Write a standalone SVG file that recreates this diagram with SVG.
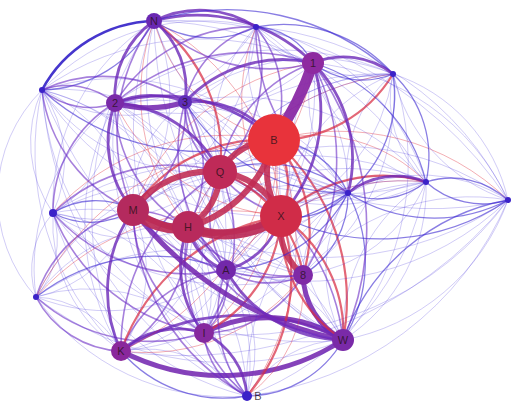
<svg xmlns="http://www.w3.org/2000/svg" width="512" height="403" viewBox="0 0 512 403">
<style>
.e path{fill:none;stroke-linecap:round}
.t{stroke:#3d2ad8;stroke-opacity:.3;stroke-width:.8}
.tb{stroke:#3a26d0;stroke-opacity:.6;stroke-width:1.3}
.bb{stroke:#3220c8;stroke-opacity:.9;stroke-width:2.6}
.p{stroke:#6a2bc4;stroke-opacity:.6;stroke-width:1.6}
.pp{stroke:#6c28b8;stroke-opacity:.8;stroke-width:2.8}
.pk{stroke:#7428b0;stroke-opacity:.88;stroke-width:5}
.bo{stroke:#8a2aa4;stroke-opacity:.95;stroke-width:11}
.r{stroke:#e03444;stroke-opacity:.4;stroke-width:1}
.rr{stroke:#d82c42;stroke-opacity:.72;stroke-width:2.2}
.c{stroke:#c02a52;stroke-opacity:.88;stroke-width:6}
.cc{stroke:#bb2a56;stroke-opacity:.92;stroke-width:10}
.n text{font-family:"Liberation Sans",Arial,sans-serif;font-size:11px;fill:#2a1018;fill-opacity:.8;text-anchor:middle}
</style>
<rect width="512" height="403" fill="#ffffff"/>
<g id="connectors" class="e">
<path class="t" d="M42 90A144 144 0 0 0 185 102"/>
<path class="t" d="M42 90A237 237 0 0 1 274 140"/>
<path class="t" d="M42 90A150 150 0 0 1 133 210"/>
<path class="t" d="M42 90A196 196 0 0 1 220 172"/>
<path class="t" d="M53 213A172 172 0 0 0 220 172"/>
<path class="t" d="M53 213A182 182 0 0 1 226 270"/>
<path class="t" d="M53 213A193 193 0 0 1 204 333"/>
<path class="t" d="M53 213A126 126 0 0 0 115 103"/>
<path class="t" d="M36 297A130 130 0 0 0 133 210"/>
<path class="t" d="M36 297A192 192 0 0 0 226 270"/>
<path class="t" d="M36 297A172 172 0 0 1 204 333"/>
<path class="t" d="M121 351A141 141 0 0 0 133 210"/>
<path class="t" d="M121 351A133 133 0 0 0 226 270"/>
<path class="t" d="M121 351A205 205 0 0 0 220 172"/>
<path class="t" d="M204 333A107 107 0 0 0 188 227"/>
<path class="t" d="M204 333A142 142 0 0 0 133 210"/>
<path class="t" d="M204 333A162 162 0 0 1 220 172"/>
<path class="t" d="M247 396A128 128 0 0 0 226 270"/>
<path class="t" d="M247 396A179 179 0 0 0 188 227"/>
<path class="t" d="M247 396A218 218 0 0 0 133 210"/>
<path class="t" d="M343 340A136 136 0 0 0 226 270"/>
<path class="t" d="M343 340A192 192 0 0 0 188 227"/>
<path class="t" d="M343 340A208 208 0 0 1 220 172"/>
<path class="t" d="M343 340A279 279 0 0 1 313 63"/>
<path class="t" d="M303 275A94 94 0 0 1 348 193"/>
<path class="t" d="M303 275A154 154 0 0 1 426 182"/>
<path class="t" d="M303 275A212 212 0 0 1 313 63"/>
<path class="t" d="M226 270A144 144 0 0 1 348 193"/>
<path class="t" d="M226 270A173 173 0 0 0 185 102"/>
<path class="t" d="M281 216A71 71 0 0 1 348 193"/>
<path class="t" d="M281 216A181 181 0 0 1 393 74"/>
<path class="t" d="M281 216A149 149 0 0 0 185 102"/>
<path class="t" d="M188 227A144 144 0 0 0 115 103"/>
<path class="t" d="M188 227A164 164 0 0 1 348 193"/>
<path class="t" d="M133 210A120 120 0 0 1 185 102"/>
<path class="t" d="M133 210A216 216 0 0 1 348 193"/>
<path class="t" d="M133 210A190 190 0 0 0 154 21"/>
<path class="t" d="M220 172A130 130 0 0 0 348 193"/>
<path class="t" d="M220 172A143 143 0 0 0 313 63"/>
<path class="t" d="M220 172A149 149 0 0 1 256 27"/>
<path class="t" d="M274 140A91 91 0 0 0 348 193"/>
<path class="t" d="M274 140A114 114 0 0 1 256 27"/>
<path class="t" d="M115 103A160 160 0 0 0 256 27"/>
<path class="t" d="M115 103A202 202 0 0 0 313 63"/>
<path class="t" d="M185 102A103 103 0 0 0 256 27"/>
<path class="t" d="M185 102A187 187 0 0 1 348 193"/>
<path class="t" d="M256 27A190 190 0 0 1 348 193"/>
<path class="t" d="M313 63A135 135 0 0 0 348 193"/>
<path class="t" d="M313 63A164 164 0 0 0 426 182"/>
<path class="t" d="M393 74A127 127 0 0 0 348 193"/>
<path class="t" d="M348 193A160 160 0 0 1 508 200"/>
<path class="t" d="M426 182A149 149 0 0 0 281 216"/>
<path class="t" d="M393 74A199 199 0 0 0 220 172"/>
<path class="r" d="M426 182A219 219 0 0 0 226 270"/>
<path class="r" d="M393 74A256 256 0 0 0 188 227"/>
<path class="bb" d="M154 21A131 131 0 0 0 42 90"/>
<path class="tb" d="M154 21A131 131 0 0 1 42 90"/>
<path class="p" d="M42 90A74 74 0 0 1 115 103"/>
<path class="p" d="M42 90A74 74 0 0 0 115 103"/>
<path class="p" d="M42 90A144 144 0 0 1 185 102"/>
<path class="t" d="M42 90A223 223 0 0 1 256 27"/>
<path class="t" d="M42 90A272 272 0 0 1 313 63"/>
<path class="tb" d="M42 90A237 237 0 0 0 274 140"/>
<path class="t" d="M42 90A196 196 0 0 0 220 172"/>
<path class="p" d="M42 90A150 150 0 0 0 133 210"/>
<path class="t" d="M42 90A200 200 0 0 1 188 227"/>
<path class="t" d="M42 90A270 270 0 0 0 281 216"/>
<path class="t" d="M42 90A123 123 0 0 1 53 213"/>
<path class="t" d="M42 90A123 123 0 0 0 53 213"/>
<path class="t" d="M42 90A150 150 0 0 0 36 297"/>
<path class="t" d="M42 90A273 273 0 0 0 121 351"/>
<path class="t" d="M42 90A257 257 0 0 1 226 270"/>
<path class="t" d="M42 90A292 292 0 0 0 204 333"/>
<path class="t" d="M42 90A391 391 0 0 0 343 340"/>
<path class="t" d="M42 90A368 368 0 0 0 247 396"/>
<path class="t" d="M154 21A217 217 0 0 0 53 213"/>
<path class="p" d="M53 213A126 126 0 0 1 115 103"/>
<path class="tb" d="M53 213A80 80 0 0 1 133 210"/>
<path class="tb" d="M53 213A80 80 0 0 0 133 210"/>
<path class="p" d="M53 213A172 172 0 0 1 220 172"/>
<path class="t" d="M53 213A136 136 0 0 0 188 227"/>
<path class="t" d="M53 213A228 228 0 0 1 281 216"/>
<path class="r" d="M53 213A233 233 0 0 1 274 140"/>
<path class="p" d="M53 213A182 182 0 0 0 226 270"/>
<path class="t" d="M53 213A154 154 0 0 0 121 351"/>
<path class="p" d="M53 213A193 193 0 0 0 204 333"/>
<path class="t" d="M53 213A317 317 0 0 0 343 340"/>
<path class="t" d="M53 213A86 86 0 0 0 36 297"/>
<path class="t" d="M53 213A86 86 0 0 1 36 297"/>
<path class="t" d="M53 213A258 258 0 0 0 303 275"/>
<path class="t" d="M53 213A267 267 0 0 0 247 396"/>
<path class="t" d="M53 213A295 295 0 0 1 348 193"/>
<path class="p" d="M36 297A100 100 0 0 0 121 351"/>
<path class="t" d="M36 297A100 100 0 0 1 121 351"/>
<path class="p" d="M36 297A130 130 0 0 1 133 210"/>
<path class="t" d="M36 297A167 167 0 0 1 188 227"/>
<path class="tb" d="M36 297A192 192 0 0 1 226 270"/>
<path class="p" d="M36 297A172 172 0 0 0 204 333"/>
<path class="t" d="M36 297A310 310 0 0 0 343 340"/>
<path class="t" d="M36 297A233 233 0 0 0 247 396"/>
<path class="r" d="M36 297A258 258 0 0 1 281 216"/>
<path class="t" d="M36 297A268 268 0 0 1 303 275"/>
<path class="t" d="M36 297A222 222 0 0 1 220 172"/>
<path class="t" d="M36 297A209 209 0 0 1 115 103"/>
<path class="r" d="M36 297A285 285 0 0 1 274 140"/>
<path class="pk" d="M121 351A222 222 0 0 0 343 340"/>
<path class="pp" d="M121 351A222 222 0 0 1 343 340"/>
<path class="tb" d="M121 351A134 134 0 0 0 247 396"/>
<path class="t" d="M121 351A134 134 0 0 1 247 396"/>
<path class="pp" d="M121 351A141 141 0 0 1 133 210"/>
<path class="p" d="M121 351A141 141 0 0 0 188 227"/>
<path class="p" d="M121 351A133 133 0 0 1 226 270"/>
<path class="pp" d="M121 351A85 85 0 0 1 204 333"/>
<path class="rr" d="M121 351A209 209 0 0 1 281 216"/>
<path class="r" d="M121 351A197 197 0 0 0 303 275"/>
<path class="p" d="M121 351A205 205 0 0 1 220 172"/>
<path class="r" d="M121 351A260 260 0 0 0 274 140"/>
<path class="t" d="M121 351A248 248 0 0 1 115 103"/>
<path class="t" d="M121 351A332 332 0 0 1 154 21"/>
<path class="t" d="M121 351A277 277 0 0 0 348 193"/>
<path class="t" d="M121 351A415 415 0 0 0 508 200"/>
<path class="pk" d="M204 333A139 139 0 0 1 343 340"/>
<path class="pp" d="M204 333A76 76 0 0 1 247 396"/>
<path class="p" d="M204 333A76 76 0 0 0 247 396"/>
<path class="pp" d="M204 333A107 107 0 0 1 188 227"/>
<path class="p" d="M204 333A67 67 0 0 0 226 270"/>
<path class="rr" d="M204 333A140 140 0 0 0 281 216"/>
<path class="p" d="M204 333A115 115 0 0 0 303 275"/>
<path class="p" d="M204 333A142 142 0 0 1 133 210"/>
<path class="p" d="M204 333A162 162 0 0 0 220 172"/>
<path class="r" d="M204 333A205 205 0 0 0 274 140"/>
<path class="t" d="M204 333A316 316 0 0 1 154 21"/>
<path class="t" d="M204 333A232 232 0 0 0 185 102"/>
<path class="t" d="M204 333A332 332 0 0 0 508 200"/>
<path class="t" d="M204 333A268 268 0 0 1 426 182"/>
<path class="tb" d="M247 396A111 111 0 0 0 343 340"/>
<path class="t" d="M247 396A111 111 0 0 1 343 340"/>
<path class="p" d="M247 396A128 128 0 0 1 226 270"/>
<path class="p" d="M247 396A179 179 0 0 1 188 227"/>
<path class="rr" d="M247 396A183 183 0 0 0 281 216"/>
<path class="r" d="M247 396A133 133 0 0 0 303 275"/>
<path class="r" d="M247 396A257 257 0 0 0 274 140"/>
<path class="p" d="M247 396A218 218 0 0 1 133 210"/>
<path class="t" d="M247 396A226 226 0 0 1 220 172"/>
<path class="t" d="M247 396A326 326 0 0 0 508 200"/>
<path class="t" d="M247 396A279 279 0 0 0 426 182"/>
<path class="t" d="M247 396A227 227 0 0 1 348 193"/>
<path class="t" d="M247 396A310 310 0 0 1 115 103"/>
<path class="pk" d="M343 340A76 76 0 0 1 303 275"/>
<path class="rr" d="M343 340A139 139 0 0 0 281 216"/>
<path class="rr" d="M343 340A139 139 0 0 1 281 216"/>
<path class="rr" d="M343 340A212 212 0 0 0 274 140"/>
<path class="pp" d="M343 340A136 136 0 0 1 226 270"/>
<path class="pk" d="M343 340A350 350 0 0 1 133 210"/>
<path class="p" d="M343 340A192 192 0 0 1 188 227"/>
<path class="p" d="M343 340A208 208 0 0 0 220 172"/>
<path class="tb" d="M343 340A147 147 0 0 0 348 193"/>
<path class="t" d="M343 340A147 147 0 0 1 348 193"/>
<path class="t" d="M343 340A178 178 0 0 0 426 182"/>
<path class="t" d="M343 340A178 178 0 0 1 426 182"/>
<path class="t" d="M343 340A216 216 0 0 0 508 200"/>
<path class="tb" d="M343 340A216 216 0 0 1 508 200"/>
<path class="t" d="M343 340A270 270 0 0 0 393 74"/>
<path class="p" d="M343 340A279 279 0 0 0 313 63"/>
<path class="t" d="M343 340A286 286 0 0 1 185 102"/>
<path class="t" d="M343 340A371 371 0 0 1 154 21"/>
<path class="c" d="M303 275A63 63 0 0 1 281 216"/>
<path class="rr" d="M303 275A138 138 0 0 0 274 140"/>
<path class="p" d="M303 275A77 77 0 0 1 226 270"/>
<path class="p" d="M303 275A125 125 0 0 1 188 227"/>
<path class="p" d="M303 275A182 182 0 0 1 133 210"/>
<path class="rr" d="M303 275A132 132 0 0 0 220 172"/>
<path class="tb" d="M303 275A94 94 0 0 0 348 193"/>
<path class="t" d="M303 275A154 154 0 0 0 426 182"/>
<path class="t" d="M303 275A218 218 0 0 1 508 200"/>
<path class="p" d="M303 275A212 212 0 0 0 313 63"/>
<path class="t" d="M303 275A220 220 0 0 0 393 74"/>
<path class="t" d="M303 275A255 255 0 0 1 115 103"/>
<path class="pp" d="M226 270A57 57 0 0 1 188 227"/>
<path class="pp" d="M226 270A77 77 0 0 0 281 216"/>
<path class="p" d="M226 270A98 98 0 0 1 220 172"/>
<path class="p" d="M226 270A111 111 0 0 0 133 210"/>
<path class="r" d="M226 270A139 139 0 0 0 274 140"/>
<path class="tb" d="M226 270A144 144 0 0 0 348 193"/>
<path class="t" d="M226 270A219 219 0 0 1 426 182"/>
<path class="t" d="M226 270A290 290 0 0 0 508 200"/>
<path class="t" d="M226 270A200 200 0 0 0 115 103"/>
<path class="p" d="M226 270A173 173 0 0 1 185 102"/>
<path class="t" d="M226 270A225 225 0 0 0 313 63"/>
<path class="t" d="M226 270A259 259 0 0 1 154 21"/>
<path class="rr" d="M281 216A76 76 0 0 0 274 140"/>
<path class="tb" d="M281 216A71 71 0 0 0 348 193"/>
<path class="rr" d="M281 216A149 149 0 0 1 426 182"/>
<path class="tb" d="M281 216A228 228 0 0 0 508 200"/>
<path class="t" d="M281 216A181 181 0 0 0 393 74"/>
<path class="pp" d="M281 216A156 156 0 0 0 313 63"/>
<path class="p" d="M281 216A149 149 0 0 1 185 102"/>
<path class="r" d="M281 216A201 201 0 0 1 115 103"/>
<path class="r" d="M281 216A233 233 0 0 0 154 21"/>
<path class="r" d="M281 216A191 191 0 0 1 256 27"/>
<path class="p" d="M188 227A144 144 0 0 1 115 103"/>
<path class="p" d="M188 227A125 125 0 0 0 185 102"/>
<path class="r" d="M188 227A206 206 0 0 0 313 63"/>
<path class="r" d="M188 227A209 209 0 0 1 154 21"/>
<path class="t" d="M188 227A164 164 0 0 0 348 193"/>
<path class="t" d="M188 227A242 242 0 0 1 426 182"/>
<path class="t" d="M188 227A321 321 0 0 0 508 200"/>
<path class="t" d="M188 227A256 256 0 0 1 393 74"/>
<path class="rr" d="M133 210A157 157 0 0 1 274 140"/>
<path class="pp" d="M133 210A108 108 0 0 1 115 103"/>
<path class="p" d="M133 210A120 120 0 0 0 185 102"/>
<path class="p" d="M133 210A190 190 0 0 1 154 21"/>
<path class="r" d="M133 210A232 232 0 0 1 313 63"/>
<path class="t" d="M133 210A220 220 0 0 0 256 27"/>
<path class="tb" d="M133 210A216 216 0 0 0 348 193"/>
<path class="t" d="M133 210A294 294 0 0 1 426 182"/>
<path class="t" d="M133 210A293 293 0 0 1 393 74"/>
<path class="pp" d="M220 172A126 126 0 0 0 115 103"/>
<path class="p" d="M220 172A78 78 0 0 1 185 102"/>
<path class="rr" d="M220 172A165 165 0 0 0 154 21"/>
<path class="p" d="M220 172A143 143 0 0 1 313 63"/>
<path class="p" d="M220 172A149 149 0 0 0 256 27"/>
<path class="t" d="M220 172A199 199 0 0 1 393 74"/>
<path class="tb" d="M220 172A130 130 0 0 1 348 193"/>
<path class="t" d="M220 172A206 206 0 0 0 426 182"/>
<path class="t" d="M220 172A289 289 0 0 1 508 200"/>
<path class="pp" d="M274 140A97 97 0 0 0 185 102"/>
<path class="pp" d="M274 140A163 163 0 0 0 115 103"/>
<path class="r" d="M274 140A169 169 0 0 1 154 21"/>
<path class="p" d="M274 140A114 114 0 0 0 256 27"/>
<path class="rr" d="M274 140A136 136 0 0 0 393 74"/>
<path class="tb" d="M274 140A91 91 0 0 1 348 193"/>
<path class="r" d="M274 140A158 158 0 0 1 426 182"/>
<path class="r" d="M274 140A242 242 0 0 1 508 200"/>
<path class="pk" d="M115 103A120 120 0 0 0 185 102"/>
<path class="pp" d="M115 103A90 90 0 0 1 185 102"/>
<path class="pp" d="M115 103A91 91 0 0 1 154 21"/>
<path class="p" d="M115 103A160 160 0 0 1 256 27"/>
<path class="p" d="M115 103A202 202 0 0 1 313 63"/>
<path class="t" d="M115 103A280 280 0 0 1 393 74"/>
<path class="t" d="M115 103A250 250 0 0 1 348 193"/>
<path class="t" d="M115 103A321 321 0 0 0 426 182"/>
<path class="pp" d="M185 102A87 87 0 0 0 154 21"/>
<path class="p" d="M185 102A103 103 0 0 1 256 27"/>
<path class="pp" d="M185 102A134 134 0 0 1 313 63"/>
<path class="t" d="M185 102A210 210 0 0 1 393 74"/>
<path class="tb" d="M185 102A187 187 0 0 0 348 193"/>
<path class="t" d="M185 102A254 254 0 0 1 426 182"/>
<path class="t" d="M185 102A338 338 0 0 0 508 200"/>
<path class="pp" d="M154 21A102 102 0 0 1 256 27"/>
<path class="tb" d="M154 21A102 102 0 0 0 256 27"/>
<path class="pp" d="M154 21A164 164 0 0 1 313 63"/>
<path class="p" d="M154 21A164 164 0 0 0 313 63"/>
<path class="tb" d="M154 21A245 245 0 0 1 393 74"/>
<path class="t" d="M154 21A259 259 0 0 0 348 193"/>
<path class="t" d="M154 21A316 316 0 0 1 426 182"/>
<path class="t" d="M154 21A397 397 0 0 1 508 200"/>
<path class="tb" d="M256 27A67 67 0 0 1 313 63"/>
<path class="t" d="M256 27A67 67 0 0 0 313 63"/>
<path class="tb" d="M256 27A146 146 0 0 1 393 74"/>
<path class="t" d="M256 27A146 146 0 0 0 393 74"/>
<path class="p" d="M256 27A190 190 0 0 0 348 193"/>
<path class="t" d="M256 27A230 230 0 0 1 426 182"/>
<path class="t" d="M256 27A306 306 0 0 1 508 200"/>
<path class="pp" d="M313 63A80 80 0 0 1 393 74"/>
<path class="tb" d="M313 63A80 80 0 0 0 393 74"/>
<path class="pp" d="M313 63A135 135 0 0 1 348 193"/>
<path class="tb" d="M313 63A164 164 0 0 1 426 182"/>
<path class="t" d="M313 63A238 238 0 0 1 508 200"/>
<path class="tb" d="M393 74A127 127 0 0 1 348 193"/>
<path class="tb" d="M393 74A113 113 0 0 1 426 182"/>
<path class="t" d="M393 74A113 113 0 0 0 426 182"/>
<path class="t" d="M393 74A171 171 0 0 1 508 200"/>
<path class="t" d="M393 74A171 171 0 0 0 508 200"/>
<path class="pp" d="M348 193A78 78 0 0 1 426 182"/>
<path class="tb" d="M348 193A78 78 0 0 0 426 182"/>
<path class="tb" d="M348 193A160 160 0 0 0 508 200"/>
<path class="tb" d="M426 182A84 84 0 0 1 508 200"/>
<path class="tb" d="M426 182A84 84 0 0 0 508 200"/>
<path class="c" d="M281 216A76 76 0 0 1 274 140"/>
<path class="c" d="M281 216A75 75 0 0 0 220 172"/>
<path class="c" d="M281 216A148 148 0 0 1 133 210"/>
<path class="c" d="M188 227A64 64 0 0 0 220 172"/>
<path class="c" d="M188 227A122 122 0 0 0 274 140"/>
<path class="c" d="M133 210A95 95 0 0 1 220 172"/>
<path class="c" d="M220 172A63 63 0 0 1 274 140"/>
<path class="cc" d="M281 216A94 94 0 0 1 188 227"/>
<path class="cc" d="M188 227A58 58 0 0 1 133 210"/>
<path class="bo" d="M274 140A300 300 0 0 0 313 63"/>
</g>
<g class="n">
<g id="node-N"><circle cx="154" cy="21" r="8" fill="#6a28b2"/><text x="154" y="25">N</text></g>
<g id="node-T"><circle cx="256" cy="27" r="3" fill="#3b22c8"/></g>
<g id="node-1"><circle cx="313" cy="63" r="11" fill="#8e2aa0"/><text x="313" y="67">1</text></g>
<g id="node-TR"><circle cx="393" cy="74" r="3" fill="#3b22c8"/></g>
<g id="node-L1"><circle cx="42" cy="90" r="3" fill="#3b22c8"/></g>
<g id="node-2"><circle cx="115" cy="103" r="9" fill="#7a2aa8"/><text x="115" y="107">2</text></g>
<g id="node-3"><circle cx="185" cy="102" r="7" fill="#5e2cb8"/><text x="185" y="106">3</text></g>
<g id="node-B"><circle cx="274" cy="140" r="26" fill="#e8333b"/><text x="274" y="144">B</text></g>
<g id="node-Q"><circle cx="220" cy="172" r="17" fill="#bf2a58"/><text x="220" y="176">Q</text></g>
<g id="node-M"><circle cx="133" cy="210" r="16" fill="#b42a5e"/><text x="133" y="214">M</text></g>
<g id="node-H"><circle cx="188" cy="227" r="16" fill="#b82a5c"/><text x="188" y="231">H</text></g>
<g id="node-X"><circle cx="281" cy="216" r="21" fill="#d02c48"/><text x="281" y="220">X</text></g>
<g id="node-S1"><circle cx="348" cy="193" r="3" fill="#3b22c8"/></g>
<g id="node-S2"><circle cx="426" cy="182" r="3" fill="#3b22c8"/></g>
<g id="node-FR"><circle cx="508" cy="200" r="3" fill="#3b22c8"/></g>
<g id="node-L2"><circle cx="53" cy="213" r="4" fill="#3b22c8"/></g>
<g id="node-A"><circle cx="226" cy="270" r="10" fill="#7228aa"/><text x="226" y="274">A</text></g>
<g id="node-8"><circle cx="303" cy="275" r="10" fill="#7f2aa6"/><text x="303" y="279">8</text></g>
<g id="node-L3"><circle cx="36" cy="297" r="3" fill="#3b22c8"/></g>
<g id="node-K"><circle cx="121" cy="351" r="10" fill="#8a289c"/><text x="121" y="355">K</text></g>
<g id="node-I"><circle cx="204" cy="333" r="10" fill="#86299e"/><text x="204" y="337">I</text></g>
<g id="node-W"><circle cx="343" cy="340" r="11" fill="#7a2aa8"/><text x="343" y="344">W</text></g>
<g id="node-BT"><circle cx="247" cy="396" r="5" fill="#3b22c8"/><text x="258" y="400">B</text></g>
</g>
</svg>
